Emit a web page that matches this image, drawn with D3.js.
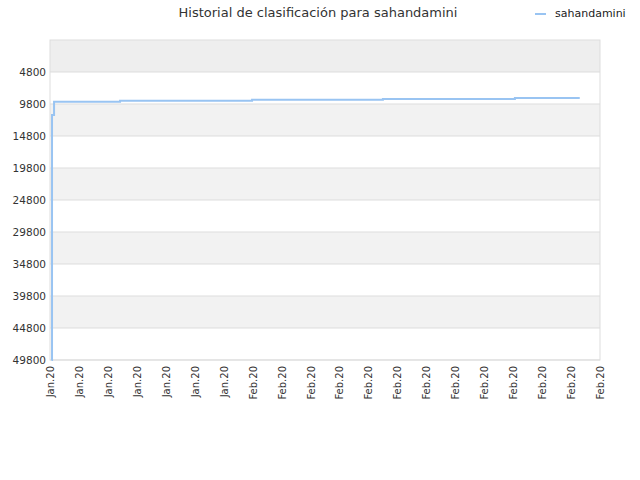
<!DOCTYPE html><html><head><meta charset="utf-8"><script src="https://d3js.org/d3.v7.min.js"></script>
<style>body{margin:0;background:#fff}text{font-family:"DejaVu Sans",sans-serif}</style></head><body><script>
const xTickLabels=["Jan.20","Jan.20","Jan.20","Jan.20","Jan.20","Jan.20","Jan.20","Feb.20","Feb.20","Feb.20","Feb.20","Feb.20","Feb.20","Feb.20","Feb.20","Feb.20","Feb.20","Feb.20","Feb.20","Feb.20"];
const yTicks=[4800,9800,14800,19800,24800,29800,34800,39800,44800,49800];
const dayPos=[0.05,0.07,0.14,2.42,6.98,11.5,16.06,18.3];
const rankVals=[49800,11500,9450,9300,9150,9000,8850,8850];
const W=640,H=480,m={l:50,r:40,t:40,b:120};
const svg=d3.select("body").append("svg").attr("width",W).attr("height",H);
const x=d3.scaleLinear().domain([0,19]).range([m.l,W-m.r]);
const y=d3.scaleLinear().domain([-200,49800]).range([m.t,H-m.b]);
const bands=[-200,...yTicks];
for(let i=0;i<bands.length-1;i++){
 svg.append("rect").attr("x",m.l).attr("width",W-m.r-m.l).attr("y",y(bands[i])).attr("height",y(bands[i+1])-y(bands[i]))
 .attr("fill",i==0?"#eeeeee":(i%2==0?"#f2f2f2":"#ffffff"));
}
yTicks.forEach(t=>svg.append("line").attr("x1",m.l).attr("x2",W-m.r).attr("y1",y(t)).attr("y2",y(t)).attr("stroke","#dddddd"));
svg.append("rect").attr("x",m.l).attr("y",m.t).attr("width",W-m.r-m.l).attr("height",H-m.b-m.t).attr("fill","none").attr("stroke","#dddddd");
svg.append("g").selectAll("text").data(yTicks).join("text").attr("x",m.l-4).attr("y",d=>y(d)+4).attr("text-anchor","end")
 .attr("font-size",10.5).attr("fill","#333").text(d=>d);
svg.append("g").selectAll("text").data(xTickLabels).join("text")
 .attr("transform",(d,i)=>`translate(${x(i)+4},${H-m.b+6}) rotate(-90)`).attr("text-anchor","end")
 .attr("font-size",10).attr("fill","#333").text(d=>d);
const data=dayPos.map((d,i)=>[d,rankVals[i]]);
svg.append("path").datum(data).attr("fill","none").attr("stroke","#99c4f2").attr("stroke-width",2)
 .attr("d",d3.line().x(d=>x(d[0])).y(d=>y(d[1])).curve(d3.curveStepAfter));
svg.append("text").attr("x",318).attr("y",17).attr("text-anchor","middle").attr("font-size",13).attr("fill","#333")
 .text("Historial de clasificación para sahandamini");
svg.append("line").attr("x1",535).attr("x2",546).attr("y1",14).attr("y2",14).attr("stroke","#99c4f2").attr("stroke-width",2);
svg.append("text").attr("x",555).attr("y",17).attr("font-size",11).attr("fill","#222").text("sahandamini");
</script></body></html>
